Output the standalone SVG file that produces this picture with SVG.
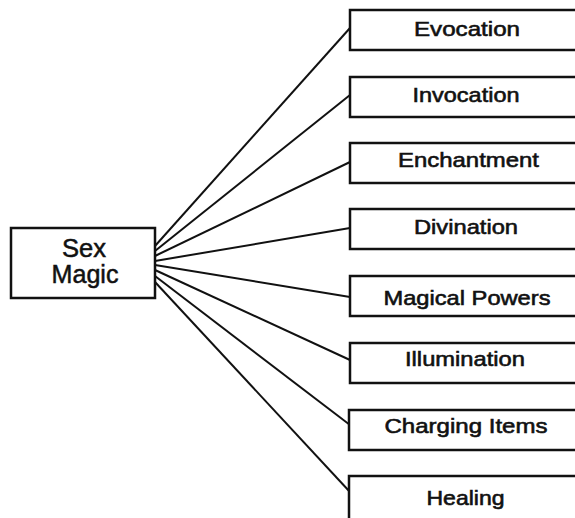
<svg xmlns="http://www.w3.org/2000/svg" width="575" height="518" viewBox="0 0 575 518">
<style>
.box{fill:#fff;stroke:#111;stroke-width:2.5}
.lbl{font-family:"Liberation Sans",Arial,sans-serif;font-size:21px;fill:#111;stroke:#111;stroke-width:0.6;text-anchor:middle}
.src{font-family:"Liberation Sans",Arial,sans-serif;font-size:25px;fill:#111;stroke:#111;stroke-width:0.5;text-anchor:middle}
.con{stroke:#111;stroke-width:2;fill:none}
</style>
<rect width="575" height="518" fill="#fff"/>
<g id="connectors">
<line class="con" x1="155" y1="246" x2="350" y2="28"/>
<line class="con" x1="155" y1="251" x2="350" y2="95"/>
<line class="con" x1="155" y1="256" x2="350" y2="162"/>
<line class="con" x1="155" y1="261" x2="350" y2="228"/>
<line class="con" x1="155" y1="265" x2="350" y2="297"/>
<line class="con" x1="155" y1="270" x2="350" y2="360"/>
<line class="con" x1="155" y1="276" x2="350" y2="425"/>
<line class="con" x1="155" y1="282" x2="350" y2="492"/>
</g>
<g id="sex-magic">
<rect class="box" x="11" y="228" width="144" height="70"/>
<text class="src" x="84" y="257" textLength="44" lengthAdjust="spacingAndGlyphs">Sex</text>
<text class="src" x="85" y="283" textLength="67" lengthAdjust="spacingAndGlyphs">Magic</text>
</g>
<g id="evocation">
<rect class="box" x="350" y="10" width="240" height="40"/>
<text class="lbl" x="467" y="36" textLength="106" lengthAdjust="spacingAndGlyphs">Evocation</text>
</g>
<g id="invocation">
<rect class="box" x="350" y="77" width="240" height="40"/>
<text class="lbl" x="466" y="102" textLength="107" lengthAdjust="spacingAndGlyphs">Invocation</text>
</g>
<g id="enchantment">
<rect class="box" x="350" y="143" width="240" height="40"/>
<text class="lbl" x="468.5" y="167" textLength="141" lengthAdjust="spacingAndGlyphs">Enchantment</text>
</g>
<g id="divination">
<rect class="box" x="350" y="209" width="240" height="40"/>
<text class="lbl" x="466" y="234" textLength="104" lengthAdjust="spacingAndGlyphs">Divination</text>
</g>
<g id="magical-powers">
<rect class="box" x="350" y="276" width="240" height="40"/>
<text class="lbl" x="467" y="305" textLength="167" lengthAdjust="spacingAndGlyphs">Magical Powers</text>
</g>
<g id="illumination">
<rect class="box" x="350" y="343" width="240" height="40"/>
<text class="lbl" x="465" y="366" textLength="120" lengthAdjust="spacingAndGlyphs">Illumination</text>
</g>
<g id="charging-items">
<rect class="box" x="349" y="410" width="240" height="40"/>
<text class="lbl" x="466" y="433" textLength="163" lengthAdjust="spacingAndGlyphs">Charging Items</text>
</g>
<g id="healing">
<rect class="box" x="349" y="476" width="240" height="60"/>
<text class="lbl" x="465.5" y="505" textLength="78" lengthAdjust="spacingAndGlyphs">Healing</text>
</g>
</svg>
